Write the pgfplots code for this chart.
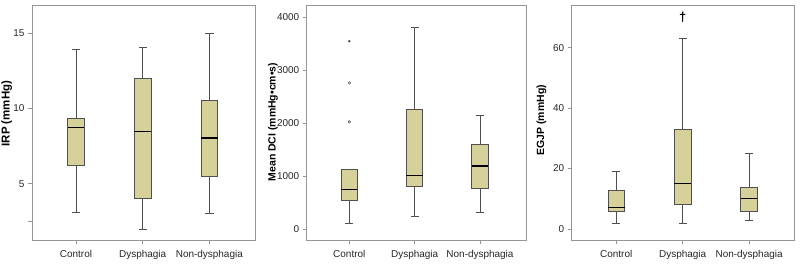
\documentclass[border=0pt]{standalone}
\usepackage{pgfplots}
\pgfplotsset{compat=1.18}
\usepackage{fontspec}
\setmainfont{Liberation Sans}
\definecolor{boxfill}{RGB}{214,208,154}
\definecolor{framegray}{RGB}{150,150,150}
\definecolor{boxline}{RGB}{80,80,80}
\pgfplotsset{
  mybox/.style={
    scale only axis,
    anchor=south west,
    height=235bp,
    xtick={1,2,3},
    xticklabels={Control,Dysphagia,Non-dysphagia},
    tick align=outside,
    xtick pos=bottom, ytick pos=left,
    major tick length=4bp,
    axis line style={framegray, line width=0.8pt},
    tick style={framegray, line width=0.8pt},
    tick label style={font=\fontsize{10}{12}\selectfont, text=black!85},
    /pgf/number format/assume math mode=true,
    xticklabel style={yshift=-3bp},
    unbounded coords=jump,
  },
  wsk/.style={draw=boxline, line width=0.7pt, mark=none},
  bxs/.style={fill=boxfill, draw=boxline, line width=0.7pt, mark=none},
  med/.style={draw=black, line width=1.4pt, mark=none},
}
\begin{document}
\begin{tikzpicture}
\path[use as bounding box] (0,0) rectangle (800bp,266bp);
% Panel 1: IRP
\begin{axis}[mybox, at={(32bp,26bp)}, width=223bp,
  xmin=0.34, xmax=3.685, ymin=1.26, ymax=16.86,
  ytick={2.5,5,10,15}, yticklabels={,5,10,15},
  ylabel={\bfseries IRP (mmHg)},
  ylabel style={font=\fontsize{11.5}{13}\selectfont, at={(axis description cs:-0.114,0.538)}, anchor=center}]
% whiskers
\addplot[wsk] coordinates {
 (1,9.34)(1,13.92) (1,nan) (0.9375,13.92)(1.0625,13.92) (1,nan) (1,6.22)(1,3.12) (1,nan) (0.9375,3.12)(1.0625,3.12) (1,nan)
 (2,12.0)(2,14.03) (2,nan) (1.9375,14.03)(2.0625,14.03) (2,nan) (2,4.0)(2,2.0) (2,nan) (1.9375,2.0)(2.0625,2.0) (2,nan)
 (3,10.53)(3,15.0) (3,nan) (2.9375,15.0)(3.0625,15.0) (3,nan) (3,5.49)(3,3.0) (3,nan) (2.9375,3.0)(3.0625,3.0)};
% boxes (Q1 to Q3)
\addplot[bxs] coordinates {(0.875,6.22)(1.125,6.22)(1.125,9.34)(0.875,9.34)} -- cycle;
\addplot[bxs] coordinates {(1.875,4.0)(2.125,4.0)(2.125,12.0)(1.875,12.0)} -- cycle;
\addplot[bxs] coordinates {(2.875,5.49)(3.125,5.49)(3.125,10.53)(2.875,10.53)} -- cycle;
% medians
\addplot[med] coordinates {(0.875,8.72)(1.125,8.72) (1,nan) (1.875,8.45)(2.125,8.45) (2,nan) (2.875,8.03)(3.125,8.03)};
\end{axis}
% Panel 2: Mean DCI
\begin{axis}[mybox, at={(306.7bp,26bp)}, width=220bp,
  xmin=0.348, xmax=3.715, ymin=-208, ymax=4232,
  ytick={0,1000,2000,3000,4000},
  scaled y ticks=false,
  yticklabel style={/pgf/number format/1000 sep={}},
  ylabel={\bfseries Mean DCI (mmHg•cm•s)},
  ylabel style={font=\fontsize{10.5}{12}\selectfont, at={(axis description cs:-0.153,0.502)}, anchor=center}]
\addplot[wsk] coordinates {
 (1,547)(1,107) (1,nan) (0.9375,107)(1.0625,107) (1,nan)
 (2,2251)(2,3817) (2,nan) (1.9375,3817)(2.0625,3817) (2,nan) (2,798)(2,240) (2,nan) (1.9375,240)(2.0625,240) (2,nan)
 (3,1604)(3,2138) (3,nan) (2.9375,2138)(3.0625,2138) (3,nan) (3,774)(3,308) (3,nan) (2.9375,308)(3.0625,308)};
\addplot[bxs] coordinates {(0.875,547)(1.125,547)(1.125,1118)(0.875,1118)} -- cycle;
\addplot[bxs] coordinates {(1.875,798)(2.125,798)(2.125,2251)(1.875,2251)} -- cycle;
\addplot[bxs] coordinates {(2.875,774)(3.125,774)(3.125,1604)(2.875,1604)} -- cycle;
\addplot[med] coordinates {(0.875,742)(1.125,742) (1,nan) (1.875,1013)(2.125,1013) (2,nan) (2.875,1189)(3.125,1189)};
% outliers
\addplot[only marks, mark=o, mark size=1.3pt, draw=black!70, line width=0.5pt] coordinates {(1,2025) (1,2760)};
\addplot[only marks, mark=asterisk, mark size=1.1pt, draw=black!80, line width=0.5pt] coordinates {(1,3547)};
\end{axis}
% Panel 3: EGJP
\begin{axis}[mybox, at={(571.7bp,26bp)}, width=222.6bp,
  xmin=0.33, xmax=3.68, ymin=-3.64, ymax=74.1,
  ytick={0,20,40,60},
  ylabel={\bfseries EGJP (mmHg)},
  ylabel style={font=\fontsize{10.5}{12}\selectfont, at={(axis description cs:-0.136,0.51)}, anchor=center}]
\addplot[wsk] coordinates {
 (1,12.9)(1,19.0) (1,nan) (0.9375,19.0)(1.0625,19.0) (1,nan) (1,6.0)(1,2.0) (1,nan) (0.9375,2.0)(1.0625,2.0) (1,nan)
 (2,33.0)(2,63.0) (2,nan) (1.9375,63.0)(2.0625,63.0) (2,nan) (2,8.05)(2,2.0) (2,nan) (1.9375,2.0)(2.0625,2.0) (2,nan)
 (3,13.9)(3,24.9) (3,nan) (2.9375,24.9)(3.0625,24.9) (3,nan) (3,6.0)(3,3.0) (3,nan) (2.9375,3.0)(3.0625,3.0)};
\addplot[bxs] coordinates {(0.875,6.0)(1.125,6.0)(1.125,12.9)(0.875,12.9)} -- cycle;
\addplot[bxs] coordinates {(1.875,8.05)(2.125,8.05)(2.125,33.0)(1.875,33.0)} -- cycle;
\addplot[bxs] coordinates {(2.875,6.0)(3.125,6.0)(3.125,13.9)(2.875,13.9)} -- cycle;
\addplot[med] coordinates {(0.875,7.05)(1.125,7.05) (1,nan) (1.875,15.0)(2.125,15.0) (2,nan) (2.875,10.0)(3.125,10.0)};
\addplot[only marks, mark=none, point meta=explicit symbolic,
  nodes near coords, nodes near coords align={center},
  every node near coord/.append style={font=\fontsize{13}{14}\selectfont\bfseries, anchor=center}]
  coordinates {(2,70) [†]};
\end{axis}
\end{tikzpicture}
\end{document}
